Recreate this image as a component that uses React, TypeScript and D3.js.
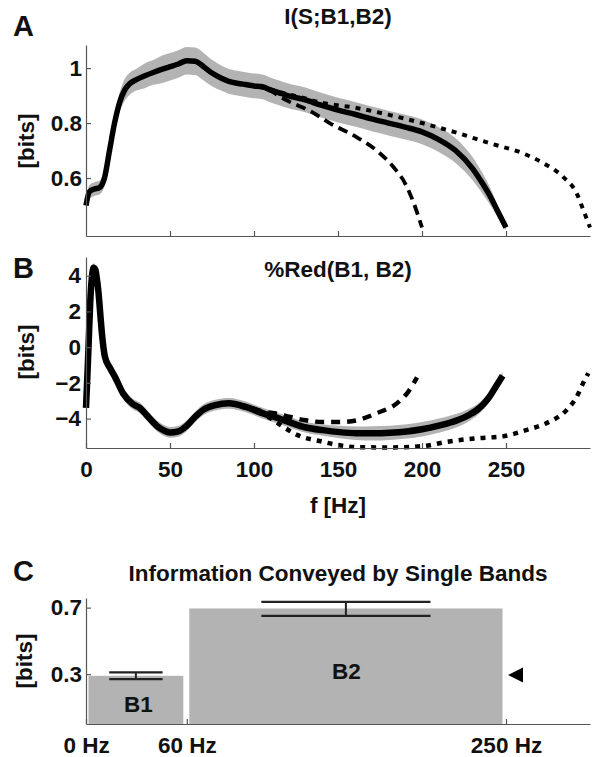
import React, { useEffect, useRef } from "react";
import * as d3 from "d3";

// ---------- Panel A: I(S;B1,B2) ----------
const freqA = [0, 2, 5, 8, 11, 14, 17, 20, 23, 26, 30, 35, 40, 45, 50, 55, 60, 65, 70, 75, 80, 85, 90, 95, 100, 105, 110, 115, 120, 130, 140, 150, 160, 170, 180, 190, 200, 210, 220, 230, 235, 240, 245, 250];
const infoA = [0.5, 0.55, 0.56, 0.565, 0.6, 0.7, 0.8, 0.875, 0.92, 0.943, 0.958, 0.972, 0.984, 0.995, 1.005, 1.015, 1.027, 1.025, 1.005, 0.982, 0.965, 0.952, 0.945, 0.94, 0.935, 0.932, 0.92, 0.91, 0.9, 0.885, 0.865, 0.847, 0.832, 0.815, 0.8, 0.785, 0.768, 0.74, 0.7, 0.635, 0.59, 0.54, 0.48, 0.42];
const errA = [0.02, 0.025, 0.025, 0.025, 0.03, 0.03, 0.03, 0.035, 0.04, 0.04, 0.04, 0.045, 0.045, 0.05, 0.05, 0.05, 0.05, 0.05, 0.05, 0.048, 0.046, 0.045, 0.045, 0.045, 0.045, 0.045, 0.045, 0.045, 0.045, 0.045, 0.045, 0.045, 0.045, 0.045, 0.045, 0.045, 0.045, 0.045, 0.045, 0.042, 0.038, 0.032, 0.022, 0.01];
const freqA_dash = [90, 95, 100, 105, 110, 115, 121, 133, 145, 161, 173, 183, 190, 195, 200];
const infoA_dash = [0.945, 0.94, 0.935, 0.932, 0.918, 0.898, 0.878, 0.845, 0.8, 0.749, 0.7, 0.64, 0.58, 0.51, 0.42];
const freqA_dot = [90, 100, 110, 120, 127, 141, 161, 181, 200, 221, 240, 260, 272, 284, 292, 296, 300];
const infoA_dot = [0.945, 0.935, 0.922, 0.905, 0.895, 0.873, 0.855, 0.829, 0.8, 0.764, 0.727, 0.69, 0.655, 0.604, 0.545, 0.484, 0.42];
const yTicksA = [0.6, 0.8, 1];

// ---------- Panel B: %Red(B1, B2) ----------
const freqB = [0, 1, 1.5, 2.5, 3.5, 4.5, 5.5, 6.5, 7.3, 8.3, 9.3, 11.3, 14.3, 17.3, 22, 28, 32, 36, 42, 46, 50, 55, 60, 65, 70, 77, 85, 95, 105, 115, 121, 131, 141, 151, 161, 171, 181, 191, 200, 210, 221, 228, 233, 237, 240, 244, 248];
const redB = [-3.4, -1.2, 0, 2.5, 3.9, 4.45, 4.35, 3.8, 3.2, 2.1, 0.95, -0.55, -1.17, -1.68, -2.58, -3.2, -3.4, -3.8, -4.4, -4.65, -4.78, -4.72, -4.4, -3.9, -3.5, -3.25, -3.15, -3.35, -3.7, -4.0, -4.2, -4.5, -4.65, -4.76, -4.82, -4.83, -4.8, -4.72, -4.6, -4.4, -4.1, -3.8, -3.5, -3.15, -2.8, -2.2, -1.6];
const errB = [0.2, 0.2, 0.2, 0.2, 0.2, 0.25, 0.25, 0.25, 0.25, 0.25, 0.25, 0.3, 0.3, 0.3, 0.3, 0.3, 0.3, 0.3, 0.3, 0.3, 0.3, 0.3, 0.3, 0.3, 0.3, 0.3, 0.3, 0.3, 0.3, 0.3, 0.3, 0.3, 0.32, 0.35, 0.38, 0.4, 0.4, 0.4, 0.4, 0.4, 0.38, 0.35, 0.32, 0.3, 0.28, 0.25, 0.2];
const freqB_dash = [90, 95, 105, 115, 121, 131, 141, 151, 161, 173, 185, 191, 197];
const redB_dash = [-3.2, -3.3, -3.6, -3.75, -3.9, -4.1, -4.2, -4.2, -4.1, -3.7, -3.15, -2.6, -1.7];
const freqB_dot = [90, 100, 110, 118, 126, 141, 151, 161, 180, 200, 215, 233, 248, 262, 274, 286, 292, 296, 299];
const redB_dot = [-3.2, -3.55, -4.0, -4.5, -4.93, -5.3, -5.5, -5.6, -5.62, -5.55, -5.3, -5.1, -5.0, -4.65, -4.26, -3.53, -2.8, -2.0, -1.46];
const yTicksB = [-4, -2, 0, 2, 4];
const xTicksB = [0, 50, 100, 150, 200, 250];

// ---------- Panel C: single bands ----------
const bandNames = ["B1", "B2"];
const bandStart = [0, 60];
const bandEnd = [60, 250];
const bandInfo = [0.29, 0.695];
const bandErrLow = [0.27, 0.65];
const bandErrHigh = [0.31, 0.735];
const markerValue = 0.295;
const yTicksC = [0.3, 0.7];
const xTicksC = [0, 60, 250];

const FONT = "'Liberation Sans', Arial, Helvetica, sans-serif";
const TICK_SIZE = 22.5;
const TITLE_SIZE = 22.5;
const LETTER_SIZE = 29;

export default function App() {
  const ref = useRef<SVGSVGElement>(null);

  useEffect(() => {
    const svg = d3.select(ref.current);
    svg.selectAll("*").remove();

    const x = d3.scaleLinear().domain([0, 300]).range([86, 590]);
    const yA = d3.scaleLinear().domain([0.389, 1.084]).range([236, 45]);
    const yB = d3.scaleLinear().domain([-5.65, 5.05]).range([448, 257]);
    const yC = d3.scaleLinear().domain([0, 0.758]).range([724, 598]);

    const axisColor = "#555";
    const styleAxis = (g: any) => {
      g.selectAll("path.domain").attr("stroke", axisColor).attr("stroke-width", 1.2);
      g.selectAll(".tick line").attr("stroke", axisColor).attr("stroke-width", 1.2);
      g.selectAll("text")
        .attr("font-family", FONT)
        .attr("font-weight", "bold")
        .attr("font-size", TICK_SIZE)
        .attr("fill", "#111");
    };

    const text = (tx: number, ty: number, s: string, size: number, anchor = "middle", rot = false) => {
      const t = svg
        .append("text")
        .attr("x", rot ? 0 : tx)
        .attr("y", rot ? 0 : ty)
        .attr("text-anchor", anchor)
        .attr("font-family", FONT)
        .attr("font-weight", "bold")
        .attr("font-size", size)
        .attr("fill", "#111")
        .text(s);
      if (rot) t.attr("transform", `translate(${tx},${ty}) rotate(-90)`);
      return t;
    };

    const zip = (fs: number[], vs: number[]) => fs.map((f, i) => [f, vs[i]] as [number, number]);

    // ===== Panel A =====
    const lineA = d3
      .line<[number, number]>()
      .x((d) => x(d[0]))
      .y((d) => yA(d[1]))
      .curve(d3.curveMonotoneX);
    const areaA = d3
      .area<number>()
      .x((_, i) => x(freqA[i]))
      .y0((_, i) => yA(infoA[i] - errA[i]))
      .y1((_, i) => yA(infoA[i] + errA[i]))
      .curve(d3.curveMonotoneX);

    svg.append("path").attr("d", areaA(infoA) as string).attr("fill", "#b3b3b3");
    svg
      .append("path")
      .attr("d", lineA(zip(freqA, infoA)) as string)
      .attr("fill", "none")
      .attr("stroke", "#000")
      .attr("stroke-width", 5.5)
      .attr("stroke-linejoin", "round");
    svg
      .append("path")
      .attr("d", lineA(zip(freqA_dash, infoA_dash)) as string)
      .attr("fill", "none")
      .attr("stroke", "#000")
      .attr("stroke-width", 3.8)
      .attr("stroke-dasharray", "10,6");
    svg
      .append("path")
      .attr("d", lineA(zip(freqA_dot, infoA_dot)) as string)
      .attr("fill", "none")
      .attr("stroke", "#000")
      .attr("stroke-width", 4)
      .attr("stroke-dasharray", "5,6");

    svg
      .append("g")
      .attr("transform", `translate(${x(0)},0)`)
      .call(d3.axisLeft(yA).tickValues(yTicksA).tickSizeInner(-5).tickSizeOuter(0).tickPadding(4).tickFormat(d3.format("~g")))
      .call(styleAxis);
    svg
      .append("g")
      .attr("transform", `translate(0,${yA.range()[0]})`)
      .call(d3.axisBottom(x).tickValues([50, 100, 150, 200, 250]).tickSizeInner(-5).tickSizeOuter(0).tickFormat(() => ""))
      .call(styleAxis);

    text(338, 24, "I(S;B1,B2)", TITLE_SIZE);
    text(13, 36, "A", LETTER_SIZE, "start");
    text(34, 141, "[bits]", TITLE_SIZE, "middle", true);

    // ===== Panel B =====
    const lineB = d3
      .line<[number, number]>()
      .x((d) => x(d[0]))
      .y((d) => yB(d[1]))
      .curve(d3.curveMonotoneX);
    const areaB = d3
      .area<number>()
      .x((_, i) => x(freqB[i]))
      .y0((_, i) => yB(redB[i] - errB[i]))
      .y1((_, i) => yB(redB[i] + errB[i]))
      .curve(d3.curveMonotoneX);

    svg.append("path").attr("d", areaB(redB) as string).attr("fill", "#b3b3b3");
    svg
      .append("path")
      .attr("d", lineB(zip(freqB, redB)) as string)
      .attr("fill", "none")
      .attr("stroke", "#000")
      .attr("stroke-width", 6.5)
      .attr("stroke-linejoin", "round");
    svg
      .append("path")
      .attr("d", lineB(zip(freqB_dash, redB_dash)) as string)
      .attr("fill", "none")
      .attr("stroke", "#000")
      .attr("stroke-width", 4.5)
      .attr("stroke-dasharray", "9,7");
    svg
      .append("path")
      .attr("d", lineB(zip(freqB_dot, redB_dot)) as string)
      .attr("fill", "none")
      .attr("stroke", "#000")
      .attr("stroke-width", 4.5)
      .attr("stroke-dasharray", "5,6");

    svg
      .append("g")
      .attr("transform", `translate(${x(0)},0)`)
      .call(d3.axisLeft(yB).tickValues(yTicksB).tickSizeInner(-5).tickSizeOuter(0).tickPadding(5).tickFormat((d: any) => (d < 0 ? "\u2212" + Math.abs(d) : String(d))))
      .call(styleAxis);
    svg
      .append("g")
      .attr("transform", `translate(0,${yB.range()[0]})`)
      .call(d3.axisBottom(x).tickValues(xTicksB).tickSizeInner(-5).tickSizeOuter(0).tickPadding(13))
      .call(styleAxis);

    text(338, 277, "%Red(B1, B2)", TITLE_SIZE);
    text(13, 278, "B", LETTER_SIZE, "start");
    text(34, 352, "[bits]", TITLE_SIZE, "middle", true);
    text(338, 513, "f [Hz]", TITLE_SIZE);

    // ===== Panel C =====
    const cData = bandNames.map((n, i) => ({
      name: n,
      x0: bandStart[i],
      x1: bandEnd[i],
      v: bandInfo[i],
      lo: bandErrLow[i],
      hi: bandErrHigh[i],
    }));

    const gC = svg.append("g");
    gC.selectAll("rect.bar")
      .data(cData)
      .enter()
      .append("rect")
      .attr("x", (d) => x(d.x0) + 2.5)
      .attr("width", (d) => x(d.x1) - x(d.x0) - 6)
      .attr("y", (d) => yC(d.v))
      .attr("height", (d) => yC(0) - yC(d.v))
      .attr("fill", "#b3b3b3");

    cData.forEach((d) => {
      const cx = (x(d.x0) + 2.5 + x(d.x1) - 3.5) / 2;
      const half = (x(d.x1) - x(d.x0)) * 0.265;
      gC.append("line").attr("x1", cx).attr("x2", cx).attr("y1", yC(d.lo)).attr("y2", yC(d.hi)).attr("stroke", "#222").attr("stroke-width", 2);
      [d.lo, d.hi].forEach((v) =>
        gC.append("line").attr("x1", cx - half).attr("x2", cx + half).attr("y1", yC(v)).attr("y2", yC(v)).attr("stroke", "#222").attr("stroke-width", 2.2)
      );
    });

    text((x(0) + x(60)) / 2 + 2, yC(0) - 12, "B1", TITLE_SIZE);
    text((x(60) + x(250)) / 2, yC(0.29) + 3, "B2", TITLE_SIZE);

    // arrow marker
    const mx = x(250) + 2;
    const my = yC(markerValue);
    svg
      .append("path")
      .attr("d", `M${mx},${my} L${mx + 15},${my - 7.5} L${mx + 15},${my + 7.5} Z`)
      .attr("fill", "#000");

    svg
      .append("g")
      .attr("transform", `translate(${x(0)},0)`)
      .call(d3.axisLeft(yC).tickValues(yTicksC).tickSizeInner(-5).tickSizeOuter(0).tickPadding(4).tickFormat(d3.format(".1f")))
      .call(styleAxis);
    svg
      .append("g")
      .attr("transform", `translate(0,${yC.range()[0]})`)
      .call(d3.axisBottom(x).tickValues(xTicksC).tickSizeInner(-5).tickSizeOuter(0).tickPadding(13).tickFormat((d: any) => `${d} Hz`))
      .call(styleAxis);

    text(338, 581, "Information Conveyed by Single Bands", TITLE_SIZE);
    text(13, 581, "C", LETTER_SIZE, "start");
    text(32, 661, "[bits]", TITLE_SIZE, "middle", true);
  }, []);

  return (
    <svg
      ref={ref}
      width={598}
      height={757}
      style={{ position: "absolute", left: 0, top: 0, background: "#fff" }}
    />
  );
}
